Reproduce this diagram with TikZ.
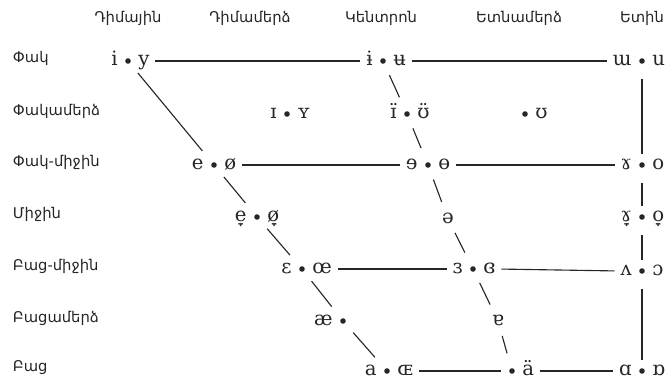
\documentclass[tikz,border=0pt]{standalone}
\usepackage{fontspec}
\usetikzlibrary{positioning}
\newfontfamily\ipafont{DejaVu Serif}
\newfontfamily\armfont{DejaVu Sans}
\definecolor{ink}{gray}{0.15}
% bullet with a vowel on each side
\newcommand{\vpair}[4]{%
  \node[dot] (#1) at (#2) {};
  \node[vow,left=4pt of #1]  (#1-l) {#3};
  \node[vow,right=4pt of #1] (#1-r) {#4};}

\begin{document}
\begin{tikzpicture}[x=0.025cm,y=-0.025cm,
  dot/.style={circle,fill=ink,inner sep=1.4pt},
  vow/.style={font=\ipafont\fontsize{14}{16}\selectfont,text=ink,
              inner sep=1pt,text height=10.6pt,text depth=3.6pt},
  lab/.style={font=\armfont\fontsize{10.5}{12}\selectfont,text=ink},
  hline/.style={line width=0.8pt,draw=ink,shorten <=3pt,shorten >=3pt},
  slant/.style={line width=0.8pt,draw=ink,shorten <=11pt,shorten >=13pt},
  vline/.style={line width=0.8pt,draw=ink,shorten <=13pt,shorten >=8pt}]

  \useasboundingbox (0,0) rectangle (671,385);

  % ===== column heads =====
  \node[lab] (front)   at (128,18) {Դիմային};
  \node[lab] (nfront)  at (250,18) {Դիմամերձ};
  \node[lab] (central) at (381,18) {Կենտրոն};
  \node[lab] (nback)   at (519,18) {Ետնամերձ};
  \node[lab] (back)    at (642,18) {Ետին};

  % ===== row heads =====
  \node[lab,anchor=west] (close)  at (8,58)  {Փակ};
  \node[lab,anchor=west] (nclose) at (8,111) {Փակամերձ};
  \node[lab,anchor=west] (cmid)   at (8,162) {Փակ-միջին};
  \node[lab,anchor=west] (mid)    at (8,214) {Միջին};
  \node[lab,anchor=west] (omid)   at (8,266) {Բաց-միջին};
  \node[lab,anchor=west] (nopen)  at (8,318) {Բացամերձ};
  \node[lab,anchor=west] (open)   at (8,368) {Բաց};

  % ===== vowels =====
  \vpair{f1}{128,61}{i}{y}
  \vpair{c1}{383,61}{ɨ}{ʉ}
  \vpair{k1}{642,61}{ɯ}{u}

  \vpair{nf2}{287,114}{ɪ}{ʏ}
  \vpair{c2}{407,114}{ɪ̈}{ʊ̈}
  \node[dot] (nb2) at (525,114) {};
  \node[vow,right=4pt of nb2] (nb2-r) {ʊ};

  \vpair{f3}{214,165}{e}{ø}
  \vpair{c3}{428,165}{ɘ}{ɵ}
  \vpair{k3}{642,165}{ɤ}{o}

  \vpair{f4}{257,217}{e̞}{ø̞}
  \node[vow] (c4) at (448,219) {ə};
  \vpair{k4}{642,217}{ɤ̞}{o̞}

  \vpair{f5}{302,269}{ɛ}{œ}
  \vpair{c5}{473,269}{ɜ}{ɞ}
  \vpair{k5}{642,271}{ʌ}{ɔ}

  \node[dot] (f6) at (343,321) {};
  \node[vow,left=4pt of f6] (f6-l) {æ};
  \node[vow] (c6) at (498,321) {ɐ};

  \vpair{f7}{387,371}{a}{ɶ}
  \node[dot] (c7) at (512,371) {};
  \node[vow,right=4pt of c7] (c7-r) {ä};
  \vpair{k7}{642,371}{ɑ}{ɒ}

  % ===== horizontal links =====
  \draw[hline] (f1-r.east) -- (c1-l.west);
  \draw[hline] (c1-r.east) -- (k1-l.west);
  \draw[hline] (f3-r.east) -- (c3-l.west);
  \draw[hline] (c3-r.east) -- (k3-l.west);
  \draw[hline] (f5-r.east) -- (c5-l.west);
  \draw[hline] (c5-r.east) -- (k5-l.west);
  \draw[hline,shorten >=8pt] (f7-r.east) -- (c7.center);
  \draw[hline] (c7-r.east) -- (k7-l.west);

  % ===== front and central slants =====
  \draw[slant] (f1.center) -- (f3.center);
  \draw[slant] (f3.center) -- (f4.center);
  \draw[slant] (f4.center) -- (f5.center);
  \draw[slant] (f5.center) -- (f6.center);
  \draw[slant] (f6.center) -- (f7.center);
  \draw[slant] (c1.center) -- (c2.center);
  \draw[slant] (c2.center) -- (c3.center);
  \draw[slant] (c3.center) -- (c4.center);
  \draw[slant] (c4.center) -- (c5.center);
  \draw[slant] (c5.center) -- (c6.center);
  \draw[slant] (c6.center) -- (c7.center);

  % ===== back column =====
  \draw[vline] (k1.center) -- (k3.center);
  \draw[vline] (k3.center) -- (k4.center);
  \draw[vline] (k4.center) -- (k5.center);
  \draw[vline] (k5.center) -- (k7.center);

\end{tikzpicture}
\end{document}
